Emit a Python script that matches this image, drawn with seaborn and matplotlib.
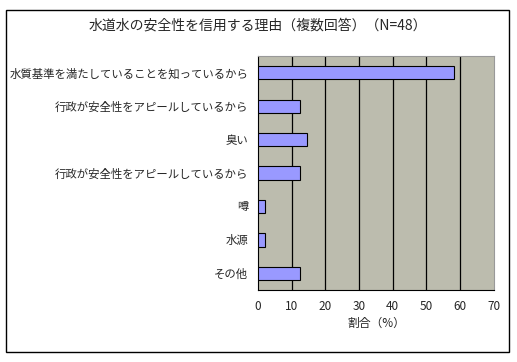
import numpy as np
import pandas as pd
import matplotlib.pyplot as plt
import seaborn as sns
from matplotlib.patches import Rectangle

# data ----
reasons = ['水質基準を満たしていることを知っているから', '行政が安全性をアピールしているから', '臭い',
           '行政が安全性をアピールしているから ', '噂', '水源', 'その他']
share = [58.3, 12.5, 14.6, 12.5, 2.1, 2.1, 12.5]
xticks = [0, 10, 20, 30, 40, 50, 60, 70]

df = pd.DataFrame({'reason': reasons, 'share': share})

sns.set_style('white')
plt.rcParams['font.family'] = ['Noto Sans CJK JP', 'DejaVu Sans']

fig = plt.figure(figsize=(5.17, 3.62), dpi=100)
ax = fig.add_axes([0.499, 0.199, 0.456, 0.646])

# outer frame
fig.patches.append(Rectangle((6 / 517, 10 / 362), 503 / 517, 342 / 362, transform=fig.transFigure,
                             fill=False, edgecolor='black', linewidth=1))

sns.barplot(data=df, x='share', y='reason', orient='h', color='#9999ff', width=0.4,
            edgecolor='black', linewidth=0.8, saturation=1, ax=ax, zorder=3)

ax.set_facecolor('#bcbcae')
ax.set_xlim(0, 70)
ax.set_ylim(len(reasons) - 0.5, -0.5)
ax.set_xticks(xticks)
ax.set_xticklabels([str(t) for t in xticks], fontsize=8.5)
ax.tick_params(axis='x', length=0, pad=7)
for t in xticks[1:-1]:
    ax.axvline(t, color='black', linewidth=0.9, zorder=1)

ax.set_yticks(range(len(reasons)))
ax.set_yticklabels([r.strip() for r in reasons], fontsize=8.2)
ax.tick_params(axis='y', length=0, pad=7)
ax.set_yticks(np.arange(-0.5, len(reasons), 1), minor=True)
ax.tick_params(axis='y', which='minor', length=3, direction='in', color='black')

ax.set_xlabel('割合（%）', fontsize=8.5, labelpad=3)
ax.set_ylabel('')

for side in ['top', 'right']:
    ax.spines[side].set_color('#999999')
for side in ['left', 'bottom']:
    ax.spines[side].set_color('black')

fig.text(258 / 517, 1 - 26 / 362, '水道水の安全性を信用する理由（複数回答）（N=48）', fontsize=10,
         ha='center', va='center')

fig.savefig('out.png', dpi=100)
